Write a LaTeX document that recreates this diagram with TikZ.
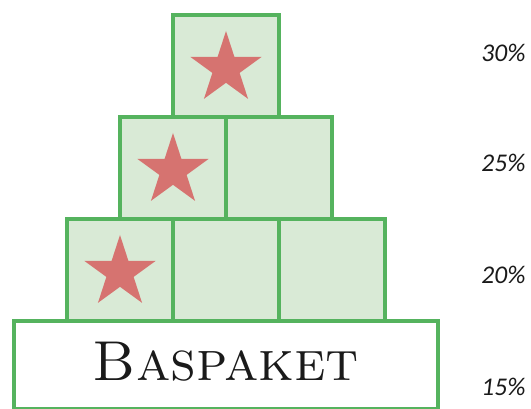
\documentclass[tikz,border=0pt]{standalone}
\usepackage{fontspec}
\newfontfamily\pctfont{Carlito}
\usetikzlibrary{positioning,shapes.geometric}
\definecolor{boxgreen}{HTML}{55B35E}
\definecolor{boxfill}{HTML}{D9EAD6}
\definecolor{starred}{HTML}{D67370}
\definecolor{txtink}{HTML}{1A1A1A}
\begin{document}
\begin{tikzpicture}[
  box/.style={draw=boxgreen, fill=boxfill, line width=0.08cm, minimum width=2.12cm,
              minimum height=2.04cm, inner sep=0pt, outer sep=0pt},
  basebox/.style={draw=boxgreen, fill=white, line width=0.08cm, minimum width=8.48cm,
                  minimum height=1.76cm, inner sep=0pt, outer sep=0pt},
  starmark/.style={star, star points=5, star point ratio=2.618, minimum size=1.50cm,
                   inner sep=0pt, fill=starred},
  pct/.style={font=\pctfont\itshape\fontsize{14.5}{16}\selectfont, text=txtink},
  basename/.style={font=\fontsize{32}{36}\selectfont, text=txtink}]
\useasboundingbox (0,0) rectangle (10.62,8.18);
\node[basebox]                (base) at (4.52,0.88) {};
\node[basename]               (bastext) at ([yshift=0.07cm]base.center) {\textsc{Baspaket}};
\node[box, above=0pt of base] (m3) {};
\node[box, left=0pt of m3]    (l3) {};
\node[box, right=0pt of m3]   (r3) {};
\node[box, anchor=south west] (l2) at (l3.north) {};
\node[box, right=0pt of l2]   (r2) {};
\node[box, anchor=south west] (top) at (l2.north) {};
\node[starmark] (s1) at ([yshift=-0.05cm]top.center) {};
\node[starmark] (s2) at ([yshift=-0.05cm]l2.center) {};
\node[starmark] (s3) at ([yshift=-0.05cm]l3.center) {};
\node[pct] (p30) at (10.07,7.12) {30\%};
\node[pct] (p25) at (10.07,4.92) {25\%};
\node[pct] (p20) at (10.07,2.68) {20\%};
\node[pct] (p15) at (10.07,0.44) {15\%};
\end{tikzpicture}
\end{document}
